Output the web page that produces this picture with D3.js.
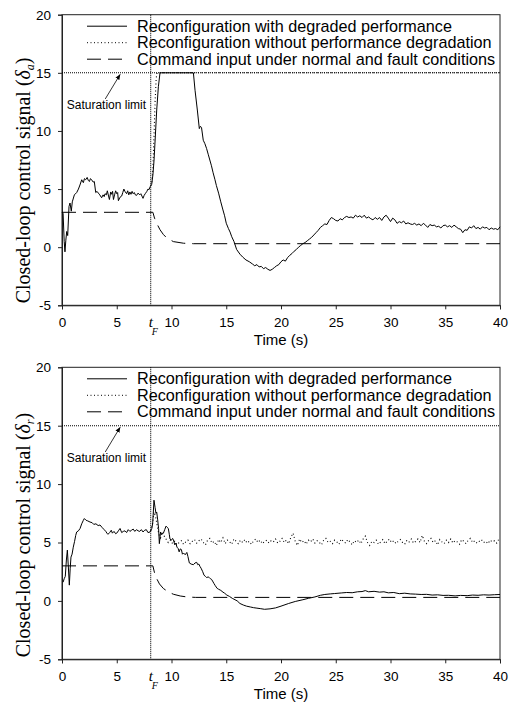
<!DOCTYPE html>
<html lang="en">
<head>
  <meta charset="UTF-8">
  <title>Closed-loop control signal</title>
  <script src="https://d3js.org/d3.v7.min.js"></script>
  <style>
    body { margin: 0; background: #fff; }
    text { fill: #000; }
  </style>
</head>
<body>
  <svg id="chart" width="515" height="704"></svg>
  <script>
    // --- data ---
    const xTicks = [0, 5, 10, 15, 20, 25, 30, 35, 40];
    const yTicks = [-5, 0, 5, 10, 15, 20];
    const faultTime = 8.1;
    const saturationLimit = 15;
    const legendLabels = [
      'Reconfiguration with degraded performance',
      'Reconfiguration without performance degradation',
      'Command input under normal and fault conditions'
    ];

    // aileron panel (top)
    const aileronDegraded = [[0,3.0],[0.1,2.9],[0.2,0.5],[0.27,-0.4],[0.35,0.6],[0.43,1.35],[0.52,1.0],[0.64,3.5],[0.73,3.8],[0.85,3.1],[0.94,3.9],[1.13,4.5],[1.34,4.7],[1.5,5.0],[1.64,5.35],[1.8,5.8],[1.95,5.55],[2.05,5.9],[2.16,5.8],[2.3,6.0],[2.4,5.75],[2.5,5.65],[2.6,5.9],[2.7,5.8],[2.85,5.6],[2.95,5.65],[3.08,4.7],[3.2,4.8],[3.32,4.65],[3.45,4.5],[3.62,4.25],[3.75,4.5],[3.85,4.35],[3.93,4.6],[4.05,4.5],[4.14,4.85],[4.25,4.4],[4.33,4.1],[4.45,4.75],[4.54,4.55],[4.62,4.8],[4.7,4.1],[4.8,4.5],[4.9,4.85],[5.0,4.6],[5.08,4.7],[5.15,4.0],[5.3,4.3],[5.45,4.4],[5.55,4.7],[5.65,5.0],[5.75,4.8],[5.9,4.6],[6.0,4.85],[6.1,4.5],[6.2,4.75],[6.3,4.55],[6.4,4.8],[6.5,4.6],[6.6,4.7],[6.7,4.5],[6.8,4.45],[6.95,4.65],[7.1,4.5],[7.2,4.6],[7.3,4.4],[7.4,4.2],[7.5,4.45],[7.6,4.6],[7.75,4.8],[7.85,5.0],[7.95,4.95],[8.05,5.2],[8.19,5.4],[8.3,6.2],[8.4,7.4],[8.49,8.95],[8.65,11.8],[8.8,13.8],[8.95,15],[12.0,15],[12.15,13.5],[12.36,11.8],[12.54,10.2],[12.64,10.4],[12.74,10.3],[12.9,9.2],[13.05,8.9],[13.2,8.5],[13.35,8.0],[13.5,7.5],[13.65,7.0],[13.8,6.4],[13.97,5.8],[14.1,5.3],[14.3,4.65],[14.5,3.9],[14.7,3.2],[14.85,2.7],[15.0,2.06],[15.2,1.6],[15.35,1.3],[15.5,0.9],[15.7,0.5],[15.95,-0.2],[16.25,-0.6],[16.5,-0.85],[16.8,-1.1],[17.1,-1.25],[17.4,-1.45],[17.6,-1.6],[17.8,-1.5],[18.0,-1.7],[18.2,-1.65],[18.4,-1.85],[18.6,-1.75],[18.8,-1.9],[19.0,-2.0],[19.2,-1.9],[19.4,-1.75],[19.6,-1.6],[19.8,-1.5],[20.0,-1.25],[20.2,-1.1],[20.4,-1.2],[20.6,-0.9],[20.8,-0.7],[21.0,-0.55],[21.2,-0.35],[21.4,-0.2],[21.6,0.0],[21.8,0.15],[22.0,0.3],[22.2,0.4],[22.4,0.55],[22.6,0.7],[22.8,0.85],[23.0,1.05],[23.2,1.25],[23.4,1.45],[23.6,1.7],[23.8,1.85],[24.0,2.0],[24.2,1.95],[24.4,2.3],[24.6,2.55],[24.8,2.45],[25.0,2.3],[25.2,2.25],[25.4,2.45],[25.6,2.35],[25.8,2.55],[26.0,2.65],[26.2,2.55],[26.4,2.6],[26.6,2.5],[26.8,2.75],[27.0,2.6],[27.2,2.7],[27.4,2.55],[27.6,2.75],[27.8,2.5],[28.0,2.6],[28.2,2.45],[28.4,2.35],[28.6,2.55],[28.8,2.4],[29.0,2.55],[29.2,2.3],[29.4,2.6],[29.6,2.75],[29.8,2.5],[30.0,2.2],[30.2,2.5],[30.4,2.35],[30.6,2.05],[30.8,2.2],[31.0,2.1],[31.2,2.25],[31.4,2.0],[31.6,2.1],[31.8,2.0],[32.0,1.95],[32.2,2.05],[32.4,1.9],[32.6,2.0],[32.8,1.85],[33.0,2.05],[33.2,1.9],[33.4,1.7],[33.6,1.95],[33.8,1.85],[34.0,1.9],[34.2,1.75],[34.4,1.8],[34.6,1.65],[34.8,1.85],[35.0,1.9],[35.2,1.75],[35.4,1.85],[35.6,1.7],[35.8,1.9],[36.0,1.75],[36.2,1.6],[36.4,1.55],[36.6,1.25],[36.8,1.5],[37.0,1.45],[37.2,1.75],[37.4,1.65],[37.6,1.85],[37.8,1.6],[38.0,1.7],[38.2,1.55],[38.4,1.75],[38.6,1.65],[38.8,1.7],[39.0,1.5],[39.2,1.65],[39.4,1.55],[39.6,1.6],[39.8,1.5],[40,1.75]];
    const aileronNominal = [[8.1,5.3],[8.2,5.5],[8.3,6.8],[8.4,9.5],[8.5,12.5],[8.6,14.5],[8.68,15],[40,15]];
    const aileronCommand = [[0,3],[8.3,3],[8.45,2.5],[8.65,2.05],[8.95,1.5],[9.25,1.1],[9.56,0.8],[10.17,0.48],[11.1,0.34],[12,0.3],[40,0.3]];

    // rudder panel (bottom)
    const rudderDegraded = [[0.1,1.6],[0.2,1.9],[0.3,2.1],[0.4,3.5],[0.49,4.35],[0.58,2.9],[0.67,1.35],[0.75,2.8],[0.82,3.75],[0.92,4.0],[1.03,4.6],[1.15,5.1],[1.25,5.6],[1.34,5.9],[1.5,6.0],[1.65,6.2],[1.8,6.6],[1.95,6.9],[2.04,7.05],[2.2,6.9],[2.35,6.85],[2.56,6.75],[2.75,6.7],[2.9,6.55],[3.1,6.6],[3.3,6.45],[3.47,6.5],[3.65,6.3],[3.85,6.1],[4.0,5.95],[4.1,5.8],[4.2,5.7],[4.35,5.85],[4.5,6.05],[4.6,5.8],[4.75,5.95],[4.9,5.75],[5.0,5.8],[5.15,6.0],[5.3,6.2],[5.45,5.85],[5.6,5.95],[5.75,6.0],[5.9,5.85],[6.05,6.1],[6.2,5.95],[6.35,6.05],[6.5,6.15],[6.65,5.95],[6.8,6.1],[6.95,6.0],[7.1,5.95],[7.25,6.1],[7.4,5.9],[7.55,6.05],[7.7,6.1],[7.85,5.85],[8.04,5.9],[8.2,6.2],[8.28,6.6],[8.4,8.62],[8.5,8.0],[8.58,7.5],[8.65,7.6],[8.73,7.0],[8.82,6.2],[8.89,4.9],[9.0,5.9],[9.1,5.7],[9.26,5.8],[9.38,6.1],[9.5,6.4],[9.6,6.3],[9.71,6.2],[9.8,5.7],[9.86,5.3],[10.0,5.2],[10.1,5.35],[10.17,5.25],[10.3,4.8],[10.4,4.95],[10.5,4.6],[10.6,4.5],[10.7,4.2],[10.8,4.45],[10.9,4.4],[11.0,4.0],[11.1,4.1],[11.25,3.95],[11.4,4.15],[11.5,3.8],[11.63,3.25],[11.8,3.15],[12.0,3.1],[12.15,3.25],[12.3,3.3],[12.4,3.1],[12.5,3.15],[12.6,2.95],[12.7,2.8],[12.85,2.5],[12.97,2.2],[13.1,2.1],[13.2,2.0],[13.35,2.05],[13.45,2.0],[13.55,1.9],[13.65,1.85],[13.75,1.7],[13.87,1.5],[14.0,1.3],[14.17,1.07],[14.3,1.0],[14.5,0.9],[14.7,0.75],[14.85,0.66],[15.05,0.5],[15.3,0.38],[15.55,0.22],[15.8,0.1],[16.0,0.0],[16.25,-0.22],[16.55,-0.35],[16.85,-0.45],[17.2,-0.52],[17.5,-0.58],[17.8,-0.62],[18.1,-0.66],[18.5,-0.72],[19.0,-0.68],[19.5,-0.6],[20.0,-0.45],[20.7,-0.22],[21.3,-0.05],[22.0,0.1],[22.5,0.22],[23.1,0.34],[23.6,0.48],[24.0,0.55],[24.5,0.6],[24.9,0.63],[25.5,0.68],[26.0,0.72],[26.5,0.7],[27.0,0.78],[27.4,0.8],[27.7,0.88],[28.0,0.78],[28.5,0.82],[29.0,0.75],[29.4,0.78],[29.8,0.69],[30.3,0.72],[30.8,0.62],[31.3,0.66],[31.8,0.6],[32.3,0.58],[32.8,0.55],[33.3,0.56],[33.8,0.5],[34.3,0.52],[34.8,0.47],[35.3,0.48],[35.9,0.43],[36.4,0.47],[37.0,0.45],[37.5,0.5],[38.0,0.48],[38.5,0.52],[39.0,0.5],[39.5,0.53],[40,0.55]];
    const rudderNominal = [[8.1,6.0],[8.25,6.5],[8.4,7.6],[8.55,7.2],[8.7,6.4],[8.85,5.7],[9.0,5.4],[9.15,5.9],[9.3,5.6],[9.5,5.3],[9.7,5.0],[9.9,5.2],[10.1,4.9],[10.3,5.1],[10.5,4.8],[10.7,5.0],[10.9,5.15],[11.1,4.85],[11.3,5.05],[11.5,5.2],[11.7,4.9],[11.9,5.1],[12.1,5.25],[12.3,4.95],[12.5,5.15],[12.7,5.3],[12.9,5.0],[13.1,4.8],[13.3,5.2],[13.5,5.35],[13.7,4.95],[13.9,5.1],[14.1,4.75],[14.3,5.25],[14.5,5.0],[14.7,5.4],[14.9,4.9],[15.1,5.2],[15.3,5.05],[15.5,4.85],[15.7,5.3],[15.9,5.1],[16.1,4.9],[16.3,5.2],[16.5,5.0],[16.7,5.25],[16.9,4.95],[17.1,5.1],[17.3,4.85],[17.5,5.15],[17.7,5.3],[17.9,5.0],[18.1,5.2],[18.3,4.9],[18.5,5.1],[18.7,5.2],[18.9,4.95],[19.1,5.15],[19.3,5.05],[19.5,5.3],[19.7,4.95],[19.9,5.1],[20.1,5.35],[20.3,5.0],[20.5,5.2],[20.7,4.9],[20.9,5.45],[21.1,5.8],[21.3,5.1],[21.5,4.75],[21.7,5.3],[21.9,5.0],[22.1,5.15],[22.3,4.85],[22.5,5.2],[22.7,5.05],[22.9,5.3],[23.1,4.95],[23.3,5.15],[23.5,5.0],[23.7,4.8],[23.9,5.2],[24.1,5.35],[24.3,5.0],[24.5,5.1],[24.7,4.9],[24.9,5.2],[25.1,5.05],[25.3,4.85],[25.5,5.3],[25.7,5.1],[25.9,4.95],[26.1,5.25],[26.3,5.05],[26.5,4.8],[26.7,5.15],[26.9,5.0],[27.1,5.2],[27.3,4.9],[27.5,5.3],[27.7,5.55],[27.9,5.0],[28.1,4.75],[28.3,5.1],[28.5,5.0],[28.7,5.2],[28.9,4.85],[29.1,5.05],[29.3,5.25],[29.5,4.9],[29.7,5.1],[29.9,5.3],[30.1,5.0],[30.3,5.15],[30.5,4.9],[30.7,5.1],[30.9,5.25],[31.1,5.0],[31.3,4.85],[31.5,5.2],[31.7,5.05],[31.9,5.3],[32.1,4.95],[32.3,5.1],[32.5,5.3],[32.7,5.0],[32.9,5.6],[33.1,5.1],[33.3,4.9],[33.5,5.2],[33.7,5.35],[33.9,5.0],[34.1,5.15],[34.3,4.8],[34.5,5.25],[34.7,5.05],[34.9,4.9],[35.1,5.2],[35.3,5.0],[35.5,5.3],[35.7,4.95],[35.9,5.15],[36.1,5.05],[36.3,4.85],[36.5,5.25],[36.7,5.1],[36.9,4.9],[37.1,5.2],[37.3,5.35],[37.5,5.0],[37.7,5.15],[37.9,4.95],[38.1,5.1],[38.3,5.25],[38.5,5.0],[38.7,5.1],[38.9,4.9],[39.1,5.2],[39.3,5.05],[39.5,5.15],[39.7,4.95],[39.9,5.3],[40,5.4]];
    const rudderCommand = [[0,3],[8.3,3],[8.45,2.4],[8.65,1.9],[8.9,1.45],[9.26,1.06],[9.7,0.78],[10.17,0.57],[10.8,0.42],[11.4,0.34],[12.2,0.3],[40,0.3]];

    // --- drawing ---
    const svg = d3.select('#chart');
    const sans = 'Arial, "Liberation Sans", sans-serif';
    const serif = '"Times New Roman", "Liberation Serif", serif';

    svg.append('defs').append('marker')
      .attr('id', 'arrow')
      .attr('viewBox', '0 0 10 10')
      .attr('refX', 9).attr('refY', 5)
      .attr('markerWidth', 7).attr('markerHeight', 7)
      .attr('orient', 'auto')
      .append('path')
      .attr('d', 'M0,1 L10,5 L0,9 Z')
      .attr('fill', '#000');

    function drawPanel(top, bottom, sub, degraded, nominal, command) {
      const left = 62, right = 500;
      const x = d3.scaleLinear().domain([0, 40]).range([left, right]);
      const y = d3.scaleLinear().domain([-5, 20]).range([bottom, top]);
      const g = svg.append('g');

      // frame
      g.append('rect')
        .attr('x', left).attr('y', top)
        .attr('width', right - left).attr('height', bottom - top)
        .attr('fill', 'none').attr('stroke', '#222').attr('stroke-width', 1);

      const ax = g.append('g')
        .attr('transform', `translate(0,${bottom})`)
        .call(d3.axisBottom(x).tickValues(xTicks).tickFormat(d => String(d)).tickSize(4).tickPadding(8.5));
      const ay = g.append('g')
        .attr('transform', `translate(${left},0)`)
        .call(d3.axisLeft(y).tickValues(yTicks).tickFormat(d => String(d)).tickSize(4).tickPadding(7));
      [ax, ay].forEach(a => {
        a.select('.domain').attr('stroke', '#222');
        a.selectAll('.tick line').attr('stroke', '#222');
        a.selectAll('.tick text').attr('font-family', sans).attr('font-size', 13.5).attr('fill', '#000');
      });

      // saturation limit and fault instant
      g.append('line')
        .attr('x1', x(0)).attr('x2', x(40))
        .attr('y1', y(saturationLimit)).attr('y2', y(saturationLimit))
        .attr('stroke', '#000').attr('stroke-width', 1.1).attr('stroke-dasharray', '1,1');
      g.append('line')
        .attr('x1', x(faultTime)).attr('x2', x(faultTime))
        .attr('y1', y(20)).attr('y2', y(-5))
        .attr('stroke', '#000').attr('stroke-width', 1.1).attr('stroke-dasharray', '1,1');

      const line = d3.line().x(d => x(d[0])).y(d => y(d[1]));

      g.append('path').datum(command)
        .attr('d', line).attr('fill', 'none')
        .attr('stroke', '#000').attr('stroke-width', 1).attr('stroke-dasharray', '14,7');
      g.append('path').datum(nominal)
        .attr('d', line).attr('fill', 'none')
        .attr('stroke', '#000').attr('stroke-width', 1.1).attr('stroke-dasharray', '1,2.5');
      g.append('path').datum(degraded)
        .attr('d', line).attr('fill', 'none')
        .attr('stroke', '#000').attr('stroke-width', 1);

      // legend
      const dashes = [null, '1,2.5', '14,7'];
      legendLabels.forEach((label, i) => {
        const ly = top + 11.5 + i * 16.5;
        const ln = g.append('line')
          .attr('x1', 87).attr('x2', 127).attr('y1', ly).attr('y2', ly)
          .attr('stroke', '#000').attr('stroke-width', 1);
        if (dashes[i]) ln.attr('stroke-dasharray', dashes[i]);
        g.append('text')
          .attr('x', 137).attr('y', ly + 5.5)
          .attr('font-family', sans).attr('font-size', 16.2)
          .text(label);
      });

      // saturation annotation
      g.append('line')
        .attr('x1', x(3.95)).attr('y1', y(12.75))
        .attr('x2', x(5.3)).attr('y2', y(14.85))
        .attr('stroke', '#000').attr('stroke-width', 0.8)
        .attr('marker-end', 'url(#arrow)');
      g.append('text')
        .attr('x', x(0.43)).attr('y', y(12.2) + 4)
        .attr('font-family', sans).attr('font-size', 12)
        .text('Saturation limit');

      // t_F label
      const tf = g.append('text')
        .attr('x', x(faultTime) - 2).attr('y', bottom + 22)
        .attr('font-family', serif).attr('font-style', 'italic').attr('font-size', 15);
      tf.append('tspan').text('t');
      tf.append('tspan').attr('dy', 8).attr('dx', -1).attr('font-size', 10).text('F');

      // axis titles
      g.append('text')
        .attr('x', (left + right) / 2).attr('y', bottom + 40)
        .attr('text-anchor', 'middle')
        .attr('font-family', sans).attr('font-size', 15)
        .text('Time (s)');

      const yl = g.append('text')
        .attr('transform', `translate(30,${bottom - 2}) rotate(-90)`)
        .attr('font-family', serif).attr('font-size', 20);
      yl.append('tspan').text('Closed-loop control signal (');
      yl.append('tspan').attr('font-style', 'italic').text('δ');
      yl.append('tspan').attr('font-style', 'italic').attr('font-size', 12).attr('dy', 4).text(sub);
      yl.append('tspan').attr('dy', -4).text(')');
    }

    drawPanel(14.7, 305.3, 'a', aileronDegraded, aileronNominal, aileronCommand);
    drawPanel(367.3, 659.3, 'r', rudderDegraded, rudderNominal, rudderCommand);
  </script>
</body>
</html>
